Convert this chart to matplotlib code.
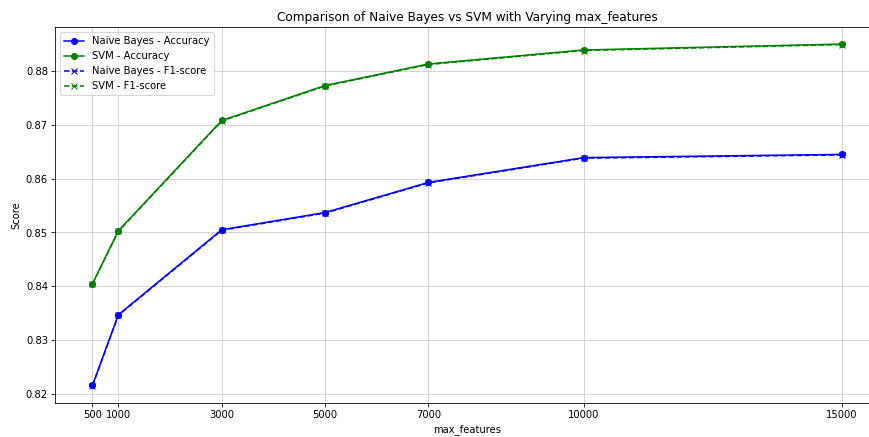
import numpy as np
import matplotlib.pyplot as plt

max_features = [500, 1000, 3000, 5000, 7000, 10000, 15000]
nb_acc = [0.8216, 0.8347, 0.8505, 0.8537, 0.8593, 0.8639, 0.8645]
svm_acc = [0.8405, 0.8503, 0.8708, 0.8773, 0.8813, 0.8839, 0.8850]
nb_f1 = [0.8215, 0.8346, 0.8504, 0.8536, 0.8592, 0.8638, 0.8644]
svm_f1 = [0.8404, 0.8502, 0.8707, 0.8772, 0.8812, 0.8838, 0.8849]

# original was a 12x6 figure, shown scaled down and cut off on the right
plt.figure(figsize=(12.0, 6.036), dpi=72.42)

plt.plot(max_features, nb_acc, marker='o', color='blue', label='Naive Bayes - Accuracy')
plt.plot(max_features, svm_acc, marker='o', color='green', label='SVM - Accuracy')
plt.plot(max_features, nb_f1, marker='x', linestyle='--', color='blue', label='Naive Bayes - F1-score')
plt.plot(max_features, svm_f1, marker='x', linestyle='--', color='green', label='SVM - F1-score')

plt.title('Comparison of Naive Bayes vs SVM with Varying max_features')
plt.xlabel('max_features')
plt.ylabel('Score')
plt.xticks(max_features)
plt.legend()
plt.grid(True, color='#cccccc')
plt.subplots_adjust(left=0.0633, right=1.012, bottom=0.078, top=0.938)
plt.savefig('out.png')
